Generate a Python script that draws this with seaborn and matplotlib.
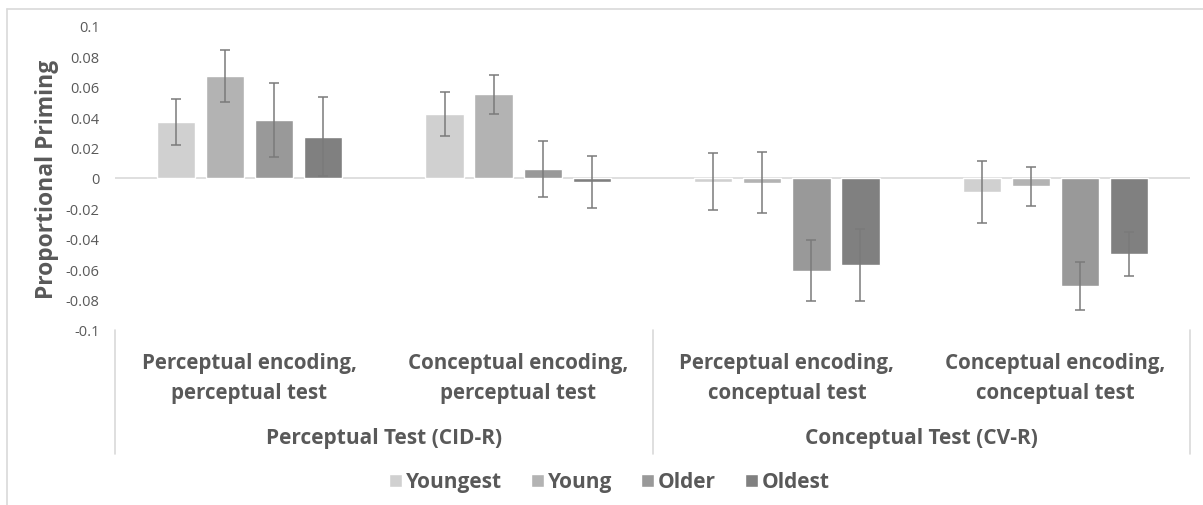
import matplotlib
matplotlib.use("Agg")
import matplotlib.pyplot as plt
from matplotlib.lines import Line2D
import seaborn as sns
import pandas as pd
import numpy as np

# ---- data ----
categories = ["Perceptual encoding,\nperceptual test",
              "Conceptual encoding,\nperceptual test",
              "Perceptual encoding,\nconceptual test",
              "Conceptual encoding,\nconceptual test"]
groups = ["Perceptual Test (CID-R)", "Conceptual Test (CV-R)"]
age_groups = ["Youngest", "Young", "Older", "Oldest"]
youngest = [0.037, 0.042, -0.0025, -0.009]
young = [0.067, 0.055, -0.003, -0.0055]
older = [0.038, 0.006, -0.061, -0.071]
oldest = [0.027, -0.0025, -0.057, -0.050]
youngest_err = [0.015, 0.0145, 0.0187, 0.0205]
young_err = [0.017, 0.0127, 0.020, 0.0128]
older_err = [0.0245, 0.0183, 0.020, 0.016]
oldest_err = [0.026, 0.0172, 0.0237, 0.0143]
yticks = [0.1, 0.08, 0.06, 0.04, 0.02, 0, -0.02, -0.04, -0.06, -0.08, -0.1]
ytick_labels = ["0.1", "0.08", "0.06", "0.04", "0.02", "0", "-0.02", "-0.04", "-0.06", "-0.08", "-0.1"]

colors = ["#d0d0d0", "#b3b3b3", "#999999", "#808080"]
text_color = "#595959"
line_color = "#d9d9d9"

values = [youngest, young, older, oldest]
errors = [youngest_err, young_err, older_err, oldest_err]
rows = []
for a, vals, errs in zip(age_groups, values, errors):
    for c, v, e in zip(categories, vals, errs):
        rows.append({"Category": c, "Age": a, "Priming": v, "Err": e})
df = pd.DataFrame(rows)

sns.set_theme(style="white")
plt.rcParams["font.family"] = ["Open Sans", "DejaVu Sans"]

fig = plt.figure(figsize=(12.03, 5.06), dpi=100)
ax = fig.add_axes([115 / 1203, 1 - 331 / 506, (1190 - 115) / 1203, (331 - 27) / 506])

sns.barplot(data=df, x="Category", y="Priming", hue="Age", order=categories,
            hue_order=age_groups, palette=colors, width=0.73, gap=0.22,
            errorbar=None, ax=ax, saturation=1)

# error bars positioned on the seaborn bars
for container, a in zip(ax.containers, age_groups):
    sub = df[df["Age"] == a].set_index("Category").loc[categories]
    xs = [p.get_x() + p.get_width() / 2 for p in container.patches]
    ax.errorbar(xs, sub["Priming"].values, yerr=sub["Err"].values, fmt="none",
                ecolor="#7a7a7a", elinewidth=1.1, capsize=3.5, capthick=1.1, zorder=5)

ax.set_xlim(-0.5, 3.5)
ax.set_ylim(-0.1, 0.1)
ax.axhline(0, color=line_color, lw=1.2, zorder=0)
for s in ax.spines.values():
    s.set_visible(False)

ax.set_yticks(yticks)
ax.set_yticklabels(ytick_labels, color=text_color, fontsize=10.5)
ax.tick_params(axis="y", length=0, pad=11)
ax.set_xticks(range(len(categories)))
ax.set_xticklabels(categories, color=text_color, fontsize=14.8, fontweight="bold",
                   linespacing=1.55)
ax.tick_params(axis="x", length=0, pad=16)
ax.set_xlabel("")
ax.set_ylabel("Proportional Priming", color=text_color, fontsize=16.5,
              fontweight="bold", labelpad=5)

# group labels and separators
trans = ax.get_xaxis_transform()
for i, g in enumerate(groups):
    ax.text(0.5 + 2 * i, -0.352, g, transform=trans, ha="center", va="center",
            color=text_color, fontsize=15, fontweight="bold")
for xs in [-0.5, 1.5, 3.5]:
    ax.add_line(Line2D([xs, xs], [0, -0.408], transform=trans, color=line_color,
                       lw=1.2, clip_on=False))

# legend
sns.move_legend(ax, "center", bbox_to_anchor=(0.5 + 8 / 1203, 1 - 483 / 506),
                bbox_transform=fig.transFigure, ncol=4, frameon=False, title=None,
                handlelength=0.6, handleheight=0.6, handletextpad=0.2,
                columnspacing=1.4, fontsize=15)
leg = ax.get_legend()
for t in leg.get_texts():
    t.set_color(text_color)
    t.set_fontweight("bold")

# outer chart frame (top/left visible)
fig.add_artist(Line2D([7 / 1203, 1.0], [1 - 10 / 506, 1 - 10 / 506],
                      transform=fig.transFigure, color=line_color, lw=1.2))
fig.add_artist(Line2D([7 / 1203, 7 / 1203], [0, 1 - 10 / 506],
                      transform=fig.transFigure, color=line_color, lw=1.2))

fig.savefig("out.png", dpi=100, facecolor="white")
